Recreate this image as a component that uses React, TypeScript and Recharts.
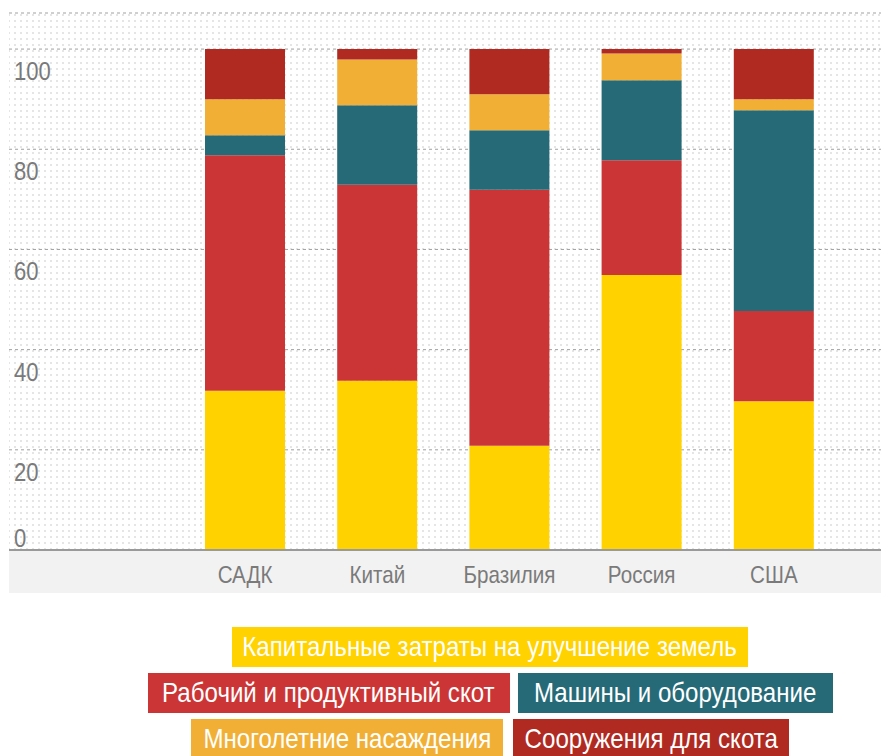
import { Bar, BarChart, CartesianGrid, Legend, XAxis, YAxis } from "recharts";

const categories = ["САДК", "Китай", "Бразилия", "Россия", "США"];

// shares, % (bottom to top of each stack)
const land = [31.8, 33.8, 20.8, 54.9, 29.7];
const livestock = [47.0, 39.1, 51.1, 22.9, 18.0];
const machines = [4.0, 15.9, 11.9, 16.0, 40.1];
const perennial = [7.2, 9.1, 7.2, 5.3, 2.2];
const structures = [10.0, 2.1, 9.0, 0.9, 10.0];

const seriesKeys = ["land", "livestock", "machines", "perennial", "structures"];
const seriesNames = [
  "Капитальные затраты на улучшение земель",
  "Рабочий и продуктивный скот",
  "Машины и оборудование",
  "Многолетние насаждения",
  "Сооружения для скота",
];
const seriesColors = ["#ffd200", "#cc3535", "#266a78", "#f1b035", "#b02a21"];
const yTicks = [0, 20, 40, 60, 80, 100];

// no narrow font installed, so squeeze Liberation Sans horizontally
const FONT = "'Liberation Sans', Arial, sans-serif";

const rows = categories.map((name, i) => ({
  name,
  land: land[i],
  livestock: livestock[i],
  machines: machines[i],
  perennial: perennial[i],
  structures: structures[i],
}));

// legend layout: series index + box width per row
const legendRows = [
  [{ i: 0, w: 516 }],
  [
    { i: 1, w: 362 },
    { i: 2, w: 315 },
  ],
  [
    { i: 3, w: 312 },
    { i: 4, w: 276 },
  ],
];

function YTick({ y, payload }: any) {
  const v = payload.value;
  return (
    <g transform={`translate(14, ${v === 0 ? y - 3 : y + 31}) scale(0.85, 1)`}>
      <text x={0} y={0} fill="#7a7a7a" fontSize={26} fontFamily={FONT}>
        {v}
      </text>
    </g>
  );
}

function XTick({ x, payload }: any) {
  return (
    <g transform={`translate(${x}, 583) scale(0.86, 1)`}>
      <text
        x={0}
        y={0}
        textAnchor="middle"
        fill="#7a7a7a"
        fontSize={24}
        fontFamily={FONT}
      >
        {payload.value}
      </text>
    </g>
  );
}

function LegendBoxes() {
  return (
    <div
      style={{
        display: "flex",
        flexDirection: "column",
        alignItems: "center",
        gap: 6,
        fontFamily: FONT,
      }}
    >
      {legendRows.map((row, r) => (
        <div key={r} style={{ display: "flex", gap: r === 2 ? 10 : 8 }}>
          {row.map(({ i, w }) => (
            <div
              key={i}
              style={{
                width: w,
                height: 40,
                lineHeight: "40px",
                background: seriesColors[i],
                color: "#fff",
                fontSize: 28,
                textAlign: "center",
                whiteSpace: "nowrap",
                overflow: "hidden",
              }}
            >
              <span
                style={{
                  display: "inline-block",
                  transform: "scaleX(0.86)",
                  transformOrigin: "center",
                  margin: "0 -100px",
                }}
              >
                {seriesNames[i]}
              </span>
            </div>
          ))}
        </div>
      ))}
    </div>
  );
}

export default function App() {
  return (
    <div
      style={{
        position: "absolute",
        left: 0,
        top: 0,
        width: 881,
        height: 756,
        background: "#fff",
        overflow: "hidden",
      }}
    >
      <div
        style={{
          position: "absolute",
          left: 9,
          top: 551,
          width: 872,
          height: 42,
          background: "#f2f2f2",
        }}
      />
      <div style={{ position: "absolute", left: 0, top: 0 }}>
        <BarChart
          width={881}
          height={756}
          data={rows}
          margin={{ top: 13, right: 0, left: 0, bottom: 163 }}
          barSize={80}
        >
          <defs>
            <pattern
              id="dots"
              width={6}
              height={6}
              patternUnits="userSpaceOnUse"
            >
              <circle cx={3} cy={3} r={0.8} fill="#c4c4c4" />
            </pattern>
          </defs>
          <CartesianGrid
            vertical={false}
            fill="url(#dots)"
            stroke="#a0a0a0"
            strokeDasharray="3 3"
          />
          <XAxis
            dataKey="name"
            height={43}
            padding={{ left: 170, right: 41 }}
            axisLine={{ stroke: "#9a9a9a", strokeWidth: 2 }}
            tickLine={false}
            tick={<XTick />}
            interval={0}
          />
          <YAxis
            width={9}
            domain={[0, 107.2]}
            ticks={yTicks}
            axisLine={false}
            tickLine={false}
            tick={<YTick />}
            allowDataOverflow
          />
          {seriesKeys.map((k, i) => (
            <Bar
              key={k}
              dataKey={k}
              name={seriesNames[i]}
              stackId="a"
              fill={seriesColors[i]}
              isAnimationActive={false}
            />
          ))}
          <Legend
            layout="horizontal"
            verticalAlign="middle"
            align="center"
            content={() => <LegendBoxes />}
            wrapperStyle={{ top: 627, left: 0, width: 980, height: 130 }}
          />
        </BarChart>
      </div>
    </div>
  );
}
